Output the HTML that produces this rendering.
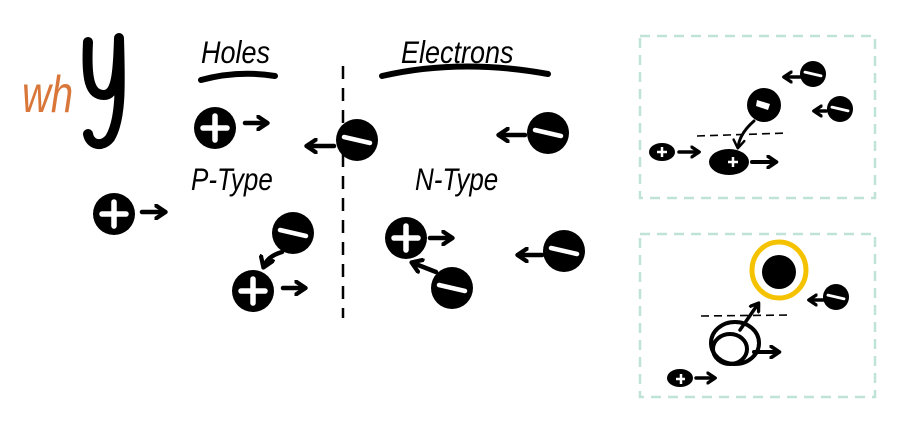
<!DOCTYPE html>
<html><head><meta charset="utf-8"><style>
html,body{margin:0;padding:0;background:#fff;width:900px;height:432px;overflow:hidden}
svg{display:block}
text{font-family:"Liberation Sans",sans-serif}
</style></head><body>
<svg width="900" height="432" viewBox="0 0 900 432" xmlns="http://www.w3.org/2000/svg">
<defs>
<marker id="ah" viewBox="0 0 10 10" refX="6" refY="5" markerWidth="3.6" markerHeight="3.6" orient="auto"><path d="M1,1 L7,5 L1,9" fill="none" stroke="#000" stroke-width="2.6" stroke-linecap="round" stroke-linejoin="round"/></marker>
<marker id="ah2" viewBox="0 0 10 10" refX="6" refY="5" markerWidth="4.5" markerHeight="4.5" orient="auto"><path d="M1,1 L7,5 L1,9" fill="none" stroke="#000" stroke-width="1.8" stroke-linecap="round" stroke-linejoin="round"/></marker>
<g id="plus"><circle r="21" fill="#000"/><path d="M-12,0 H12 M0,-12 V12" stroke="#fff" stroke-width="5.5" stroke-linecap="round"/></g>
<g id="minus"><circle r="21" fill="#000"/><path d="M-13,-3 L13,3" stroke="#fff" stroke-width="4.5" stroke-linecap="round"/></g>
</defs>

<!-- why -->
<text x="22" y="112" font-size="40" fill="#d9773a" font-style="italic" font-family="Liberation Sans" transform="translate(22,112) scale(1,1.3) translate(-22,-112)">wh</text>
<path d="M88,42 C86,80 90,95 104,95 C116,95 118,75 119,38 C120,80 122,118 110,138 C102,148 90,145 88,134" fill="none" stroke="#000" stroke-width="10" stroke-linecap="round" stroke-linejoin="round"/>

<!-- headings -->
<text x="201" y="63" font-size="27" font-style="italic" transform="translate(201,63) scale(1,1.15) translate(-201,-63)">Holes</text>
<path d="M201,80 Q238,70 275,76" fill="none" stroke="#000" stroke-width="6" stroke-linecap="round"/>
<text x="401" y="63" font-size="27" font-style="italic" transform="translate(401,63) scale(1,1.15) translate(-401,-63)">Electrons</text>
<path d="M382,76 Q460,58 548,74" fill="none" stroke="#000" stroke-width="6" stroke-linecap="round"/>
<line x1="343" y1="66" x2="343" y2="318" stroke="#000" stroke-width="2.5" stroke-dasharray="13,9"/>

<text x="191" y="190" font-size="26" font-style="italic" transform="translate(191,190) scale(1,1.2) translate(-191,-190)">P-Type</text>
<text x="415" y="190" font-size="26" font-style="italic" transform="translate(415,190) scale(1,1.2) translate(-415,-190)">N-Type</text>

<!-- particles left -->
<use href="#plus" x="215" y="128"/>
<line x1="245" y1="123" x2="266" y2="123" stroke="#000" stroke-width="4.5" stroke-linecap="round" marker-end="url(#ah)"/>
<use href="#minus" x="357" y="140"/>
<line x1="334" y1="146" x2="308" y2="146" stroke="#000" stroke-width="4.5" stroke-linecap="round" marker-end="url(#ah)"/>
<use href="#plus" x="114" y="214"/>
<line x1="142" y1="212" x2="164" y2="212" stroke="#000" stroke-width="4.5" stroke-linecap="round" marker-end="url(#ah)"/>
<use href="#minus" x="293" y="233"/>
<path d="M282,252 Q268,256 264,266" fill="none" stroke="#000" stroke-width="4.5" stroke-linecap="round" marker-end="url(#ah)"/>
<use href="#plus" x="253" y="291"/>
<line x1="283" y1="288" x2="304" y2="288" stroke="#000" stroke-width="4.5" stroke-linecap="round" marker-end="url(#ah)"/>

<!-- particles right -->
<use href="#minus" x="548" y="133"/>
<line x1="525" y1="135" x2="500" y2="135" stroke="#000" stroke-width="4.5" stroke-linecap="round" marker-end="url(#ah)"/>
<use href="#plus" x="406" y="238"/>
<line x1="430" y1="238" x2="451" y2="238" stroke="#000" stroke-width="4.5" stroke-linecap="round" marker-end="url(#ah)"/>
<use href="#minus" x="452" y="288"/>
<line x1="436" y1="272" x2="413" y2="263" stroke="#000" stroke-width="4.5" stroke-linecap="round" marker-end="url(#ah)"/>
<use href="#minus" x="564" y="251"/>
<line x1="542" y1="255" x2="519" y2="255" stroke="#000" stroke-width="4.5" stroke-linecap="round" marker-end="url(#ah)"/>

<!-- box 1 -->
<rect x="640" y="36" width="235" height="162" fill="none" stroke="#bfe3d8" stroke-width="2.5" stroke-dasharray="10,7"/>
<g transform="translate(813,74) scale(0.62)"><use href="#minus"/></g>
<line x1="800" y1="77" x2="785" y2="77" stroke="#000" stroke-width="3.5" stroke-linecap="round" marker-end="url(#ah)"/>
<g transform="translate(840,109) scale(0.62)"><use href="#minus"/></g>
<line x1="826" y1="111" x2="815" y2="111" stroke="#000" stroke-width="3.5" stroke-linecap="round" marker-end="url(#ah)"/>
<circle cx="764" cy="105" r="17" fill="#000"/>
<path d="M757,100 L770,104 L768,110 L756,106 Z" fill="#fff"/>
<line x1="697" y1="136" x2="788" y2="133" stroke="#000" stroke-width="1.6" stroke-dasharray="8,5"/>
<path d="M754,121 Q740,133 738,147" fill="none" stroke="#000" stroke-width="3" stroke-linecap="round" marker-end="url(#ah2)"/>
<ellipse cx="662" cy="152" rx="13" ry="9" fill="#000"/>
<path d="M657,152 H667 M662,147 V157" stroke="#fff" stroke-width="2.5"/>
<line x1="679" y1="152" x2="698" y2="152" stroke="#000" stroke-width="3.5" stroke-linecap="round" marker-end="url(#ah)"/>
<ellipse cx="729" cy="162" rx="20" ry="13" fill="#000"/>
<path d="M728,162 H738 M733,157 V167" stroke="#fff" stroke-width="2.5"/>
<line x1="752" y1="162" x2="775" y2="162" stroke="#000" stroke-width="4" stroke-linecap="round" marker-end="url(#ah)"/>

<!-- box 2 -->
<rect x="640" y="234" width="235" height="163" fill="none" stroke="#bfe3d8" stroke-width="2.5" stroke-dasharray="10,7"/>
<ellipse cx="779" cy="270" rx="27" ry="28" fill="none" stroke="#f5c200" stroke-width="5"/>
<circle cx="779" cy="272" r="17" fill="#000"/>
<g transform="translate(836,297) scale(0.62)"><use href="#minus"/></g>
<line x1="824" y1="300" x2="810" y2="300" stroke="#000" stroke-width="3.5" stroke-linecap="round" marker-end="url(#ah)"/>
<line x1="701" y1="316" x2="791" y2="315" stroke="#000" stroke-width="1.6" stroke-dasharray="8,5"/>
<line x1="740" y1="330" x2="758" y2="304" stroke="#000" stroke-width="3.5" stroke-linecap="round" marker-end="url(#ah)"/>
<ellipse cx="735" cy="343" rx="24" ry="21" fill="none" stroke="#000" stroke-width="4"/>
<ellipse cx="730" cy="349" rx="17" ry="15" fill="none" stroke="#000" stroke-width="4"/>
<line x1="754" y1="352" x2="778" y2="352" stroke="#000" stroke-width="4" stroke-linecap="round" marker-end="url(#ah)"/>
<ellipse cx="680" cy="378" rx="13" ry="9" fill="#000"/>
<path d="M676,379 H685 M681,374 V384" stroke="#fff" stroke-width="2.5"/>
<line x1="696" y1="378" x2="714" y2="378" stroke="#000" stroke-width="3.5" stroke-linecap="round" marker-end="url(#ah)"/>
</svg>
</body></html>
